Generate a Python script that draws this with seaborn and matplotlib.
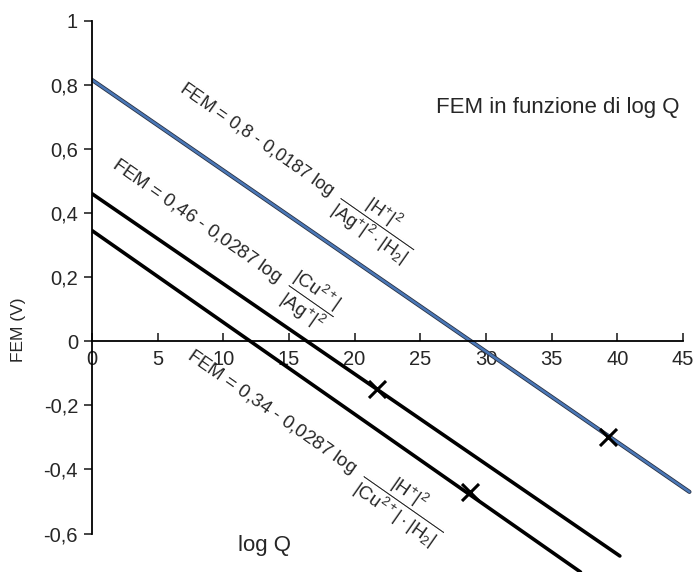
import pandas as pd
import matplotlib
matplotlib.use('Agg')
import matplotlib.pyplot as plt
import matplotlib.patheffects as pe
from matplotlib.ticker import FuncFormatter
import seaborn as sns

# endpoints of the three lines (log Q, FEM)
ag_h2_x = [0, 45.5]
ag_h2_y = [0.815, -0.47]
ag_cu_x = [0, 40.2]
ag_cu_y = [0.46, -0.67]
cu_h2_x = [0, 37.2]
cu_h2_y = [0.345, -0.72]

# the hand-drawn crosses
cross_x = [21.7, 28.8, 39.3]
cross_y = [-0.15, -0.47, -0.30]

x_ticks = [0, 5, 10, 15, 20, 25, 30, 35, 40, 45]
y_ticks = [-0.6, -0.4, -0.2, 0, 0.2, 0.4, 0.6, 0.8, 1.0]

sns.set_style('white')
plt.rcParams['font.family'] = ['Liberation Sans', 'DejaVu Sans']
plt.rcParams['mathtext.fontset'] = 'custom'
plt.rcParams['mathtext.rm'] = 'Liberation Sans'
plt.rcParams['mathtext.it'] = 'Liberation Sans'
plt.rcParams['mathtext.bf'] = 'Liberation Sans:bold'

fig = plt.figure(figsize=(6.97, 5.72), dpi=100)
ax = fig.add_axes([92 / 697, 0.0, 604 / 697, 551.4 / 572])

df_blue = pd.DataFrame({'x': ag_h2_x, 'y': ag_h2_y})
df_mid = pd.DataFrame({'x': ag_cu_x, 'y': ag_cu_y})
df_low = pd.DataFrame({'x': cu_h2_x, 'y': cu_h2_y})

sns.lineplot(data=df_mid, x='x', y='y', ax=ax, color='black', lw=2.6)
sns.lineplot(data=df_low, x='x', y='y', ax=ax, color='black', lw=2.6)
sns.lineplot(data=df_blue, x='x', y='y', ax=ax, color='#4a77b6', lw=1.8,
             path_effects=[pe.Stroke(linewidth=3.0, foreground='#2a3346'), pe.Normal()])

df_cross = pd.DataFrame({'x': cross_x, 'y': cross_y})
sns.scatterplot(data=df_cross, x='x', y='y', ax=ax, marker='x', s=150,
                color='black', linewidth=2.2, zorder=5)

ax.set_xlim(0, 46)
ax.set_ylim(-0.72, 1.0)
ax.set_xlabel('')
ax.set_ylabel('')

ax.spines['left'].set_position(('data', 0))
ax.spines['bottom'].set_position(('data', 0))
ax.spines['right'].set_visible(False)
ax.spines['top'].set_visible(False)
ax.spines['left'].set_bounds(-0.6, 1.0)
ax.spines['bottom'].set_bounds(0, 45)
for s in ['left', 'bottom']:
    ax.spines[s].set_color('black')
    ax.spines[s].set_linewidth(1.3)

ax.set_xticks(x_ticks)
ax.set_yticks(y_ticks)
comma = FuncFormatter(lambda v, p: f'{v:g}'.replace('.', ','))
ax.xaxis.set_major_formatter(comma)
ax.yaxis.set_major_formatter(comma)
ax.tick_params(axis='x', direction='in', length=6, width=1.2, labelsize=14.5, pad=6,
               bottom=True)
ax.tick_params(axis='y', direction='out', length=6, width=1.2, labelsize=14.5, pad=4,
               left=True)

# equations written along the lines
rot = -35
ax.text(6.55, 0.779,
        r'FEM = 0,8 - 0,0187 log  $\dfrac{|\mathrm{H}^{+}|^{2}}{|\mathrm{Ag}^{+}|^{2}\cdot|\mathrm{H}_{2}|}$',
        rotation=rot, rotation_mode='anchor', ha='left', va='baseline', fontsize=13)
ax.text(1.4, 0.541,
        r'FEM = 0,46 - 0,0287 log  $\dfrac{|\mathrm{Cu}^{2+}|}{|\mathrm{Ag}^{+}|^{2}}$',
        rotation=rot, rotation_mode='anchor', ha='left', va='baseline', fontsize=13.5)
ax.text(7.1, -0.054,
        r'FEM = 0,34 - 0,0287 log  $\dfrac{|\mathrm{H}^{+}|^{2}}{|\mathrm{Cu}^{2+}|\cdot|\mathrm{H}_{2}|}$',
        rotation=rot, rotation_mode='anchor', ha='left', va='baseline', fontsize=13.5)

fig.text(558 / 697, 1 - 107 / 572, 'FEM in funzione di log Q', ha='center', va='center',
         fontsize=16)
fig.text(18 / 697, 1 - 330 / 572, 'FEM (V)', rotation=90, ha='center', va='center',
         fontsize=12.5)
fig.text(265 / 697, 1 - 545 / 572, 'log Q', ha='center', va='center', fontsize=16)

fig.savefig('out.png', dpi=100, facecolor='white')
